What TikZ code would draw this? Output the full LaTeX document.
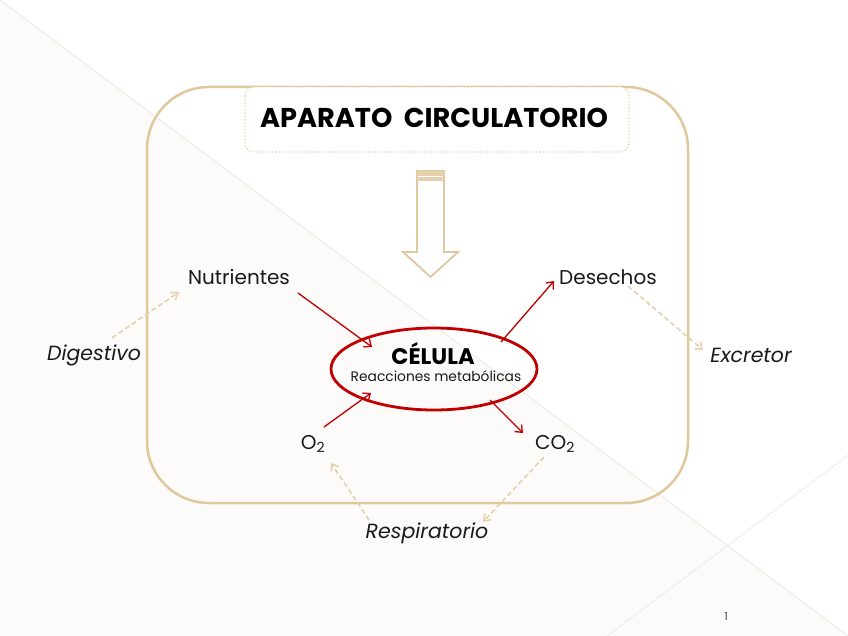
\documentclass[tikz,border=0pt]{standalone}
\usepackage{fontspec}
\setmainfont{Poppins}
\usetikzlibrary{arrows.meta,shapes.geometric}
\definecolor{tan}{HTML}{E0C89E}
\definecolor{tanlight}{HTML}{E6D1AC}
\definecolor{dred}{HTML}{C00000}
\definecolor{bgbeige}{HTML}{FCFBF9}
\definecolor{bgline}{HTML}{EDE9E4}
\definecolor{txt}{HTML}{1A1A1A}
\tikzset{
  lbl/.style={inner sep=0pt, text=txt, font=\fontsize{20}{22}\selectfont},
  ilbl/.style={lbl, font=\fontsize{20.5}{22}\selectfont\itshape},
  redarrow/.style={draw=dred, line width=1.3pt, -{Straight Barb[length=6pt,width=10pt]}},
  tanarrow/.style={draw=tanlight, line width=1.6pt, dash pattern=on 5pt off 3pt, -{Straight Barb[length=6pt,width=9pt]}},
}
\begin{document}
\begin{tikzpicture}[x=1pt,y=-1pt]
\useasboundingbox (0,0) rectangle (848,636);
% background
\fill[white] (0,0) rectangle (848,636);
\fill[bgbeige] (0,0) -- (848,636) -- (0,636) -- cycle;
\draw[bgline, line width=0.8pt] (0,0) -- (848,636);
\draw[bgline, line width=0.8pt] (607,636) -- (848,455);
% frame
\draw[tan, line width=2.5pt, rounded corners=62pt] (147,87) rectangle (688,503);
% title box
\draw[tanlight, fill=white, line width=1.3pt, dotted, rounded corners=9pt] (245,87) rectangle (629,152);
\node[inner sep=0pt, font=\fontsize{27.2}{29}\selectfont\bfseries, text=black] (title) at (434,118) {APARATO\ \ CIRCULATORIO};
% block arrow
\draw[tan, fill=white, line width=1.8pt, line join=miter] (417,171) -- (444,171) -- (444,252) -- (458,252) -- (430.5,277) -- (403,252) -- (417,252) -- cycle;
\fill[tanlight] (417,171) rectangle (444,181);
\draw[white, line width=0.8pt] (418,176) -- (443,176);
% cell
\node[ellipse, draw=dred, line width=2.8pt, minimum width=206pt, minimum height=82pt, inner sep=0pt] (cell) at (434,369) {};
\node[inner sep=0pt, font=\fontsize{22.5}{24}\selectfont\bfseries, text=black] (celtit) at (433,354) {CÉLULA};
\node[inner sep=0pt, font=\fontsize{13.8}{15}\selectfont, text=txt] (celsub) at (436,376) {Reacciones metabólicas};
% labels
\node[lbl] (nut) at (239,277) {Nutrientes};
\node[lbl] (des) at (608,277) {Desechos};
\node[ilbl] (dig) at (94,355) {Digestivo};
\node[ilbl] (exc) at (751,355) {Excretor};
\node[lbl] (o2) at (313,444) {O\textsubscript{2}};
\node[lbl] (co2) at (555,444) {CO\textsubscript{2}};
\node[ilbl] (resp) at (427,533) {Respiratorio};
\node[inner sep=0pt, font=\fontsize{11}{12}\selectfont, text=txt!80] (pg) at (726,617) {1};
% red arrows
\draw[redarrow] ([shift={(59,16)}]nut.center) -- ([shift={(-62,-22)}]cell.center);
\draw[redarrow] ([shift={(11,-17)}]o2.center) -- ([shift={(-63,24)}]cell.center);
\draw[redarrow] ([shift={(67,-27)}]cell.center) -- ([shift={(-54,4)}]des.center);
\draw[redarrow] ([shift={(56,31)}]cell.center) -- ([shift={(-32,-11)}]co2.center);
% tan dashed arrows
\draw[tanarrow] ([shift={(18,-17)}]dig.center) -- ([shift={(-60,15)}]nut.center);
\draw[tanarrow] ([shift={(20,9)}]des.center) -- ([shift={(-48,-5)}]exc.center);
\draw[tanarrow] ([shift={(-58,-13)}]resp.center) -- ([shift={(18,19)}]o2.center);
\draw[tanarrow] ([shift={(-11,13)}]co2.center) -- ([shift={(56,-11)}]resp.center);
\end{tikzpicture}
\end{document}
